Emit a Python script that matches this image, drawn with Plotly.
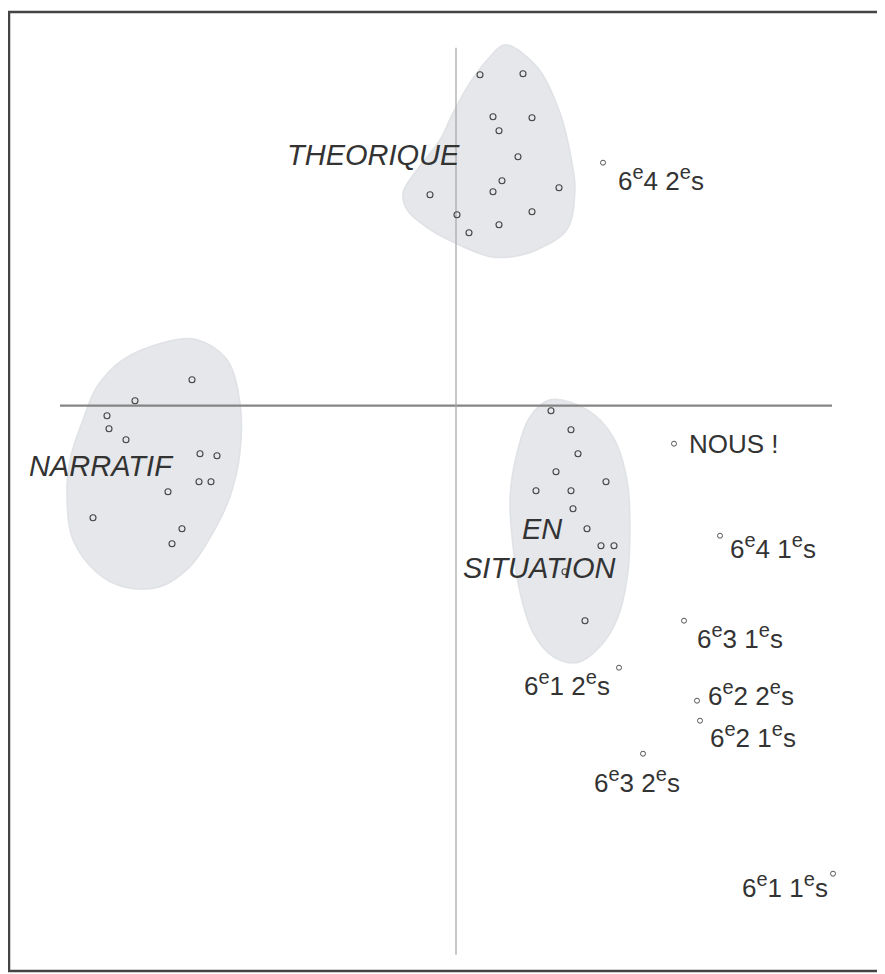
import plotly.graph_objects as go

# ---- data (factor-plane coordinates) ----
theo_x = [0.24, 0.67, 0.37, 0.76, 0.43, 0.62, 0.46, 1.03, 0.37, -0.26, 0.76, 0.01, 0.43, 0.13]
theo_y = [3.31, 3.32, 2.89, 2.88, 2.75, 2.49, 2.25, 2.18, 2.14, 2.11, 1.94, 1.91, 1.81, 1.73]

narr_x = [-2.64, -3.21, -3.49, -3.47, -3.30, -2.56, -2.39, -2.57, -2.45, -2.88, -3.63, -2.74, -2.84]
narr_y = [0.26, 0.05, -0.10, -0.23, -0.34, -0.48, -0.50, -0.76, -0.76, -0.86, -1.12, -1.23, -1.38]

situ_x = [0.95, 1.15, 1.22, 1.00, 1.50, 0.80, 1.15, 1.17, 1.31, 1.45, 1.58, 1.09, 1.29]
situ_y = [-0.05, -0.24, -0.48, -0.66, -0.76, -0.85, -0.85, -1.03, -1.23, -1.40, -1.40, -1.66, -2.15]

E = '<sup><span style="font-size:20px">e</span></sup>'
class_labels = ["6" + E + "4 2" + E + "s", "NOUS !", "6" + E + "4 1" + E + "s",
                "6" + E + "3 1" + E + "s", "6" + E + "2 2" + E + "s", "6" + E + "2 1" + E + "s",
                "6" + E + "1 2" + E + "s", "6" + E + "3 2" + E + "s", "6" + E + "1 1" + E + "s"]
class_x = [1.47, 2.18, 2.64, 2.28, 2.41, 2.44, 1.63, 1.87, 3.77]
class_y = [2.43, -0.38, -1.30, -2.15, -2.95, -3.15, -2.62, -3.48, -4.68]

group_names = ["THEORIQUE", "NARRATIF", "EN", "SITUATION"]

# cluster outlines
theo_blob_x = [0.49, 0.81, 1.04, 1.16, 1.19, 1.11, 0.81, 0.57, 0.34, 0.07, -0.26, -0.49, -0.53, -0.39, -0.16, -0.03, 0.14, 0.34]
theo_blob_y = [3.61, 3.39, 2.93, 2.43, 2.16, 1.76, 1.56, 1.49, 1.49, 1.59, 1.76, 1.96, 2.13, 2.36, 2.66, 2.93, 3.23, 3.49]
narr_blob_x = [-2.93, -2.59, -2.29, -2.16, -2.16, -2.26, -2.43, -2.66, -2.96, -3.33, -3.59, -3.83, -3.89, -3.86, -3.73, -3.59, -3.33]
narr_blob_y = [0.63, 0.66, 0.46, 0.03, -0.47, -0.91, -1.27, -1.61, -1.81, -1.81, -1.67, -1.34, -0.94, -0.54, -0.14, 0.19, 0.46]
situ_blob_x = [0.94, 1.31, 1.57, 1.71, 1.74, 1.71, 1.61, 1.44, 1.21, 0.97, 0.77, 0.64, 0.57, 0.54, 0.61, 0.74]
situ_blob_y = [0.06, -0.04, -0.31, -0.74, -1.24, -1.74, -2.14, -2.41, -2.57, -2.51, -2.27, -1.87, -1.41, -0.91, -0.47, -0.11]

axis_h_extent = [-3.96, 3.76]
axis_v_extent = [-5.49, 3.58]

X_RANGE = [-4.47, 4.27]
Y_RANGE = [-5.653, 3.937]

FONT = "Liberation Sans, Arial, sans-serif"
TXT = "#333333"

fig = go.Figure()

# shaded clusters
for bx, by in [(theo_blob_x, theo_blob_y), (narr_blob_x, narr_blob_y), (situ_blob_x, situ_blob_y)]:
    fig.add_trace(go.Scatter(x=bx + bx[:1], y=by + by[:1], mode="lines", fill="toself",
                             fillcolor="rgba(226,228,232,0.9)",
                             line=dict(width=1.5, color="rgba(220,222,226,0.8)", shape="spline", smoothing=1.0),
                             hoverinfo="skip", showlegend=False))

# axes
fig.add_trace(go.Scatter(x=axis_h_extent, y=[0, 0], mode="lines",
                         line=dict(color="#858585", width=2.2), hoverinfo="skip", showlegend=False))
fig.add_trace(go.Scatter(x=[0, 0], y=axis_v_extent, mode="lines",
                         line=dict(color="#a5a5a5", width=1.2), hoverinfo="skip", showlegend=False))

# points
marker = dict(symbol="circle-open", size=6, color="#444444", line=dict(width=1.1))
for px, py in [(theo_x, theo_y), (narr_x, narr_y), (situ_x, situ_y)]:
    fig.add_trace(go.Scatter(x=px, y=py, mode="markers", marker=marker, hoverinfo="skip", showlegend=False))
fig.add_trace(go.Scatter(x=class_x, y=class_y, mode="markers",
                         marker=dict(symbol="circle-open", size=5, color="#555555", line=dict(width=1)),
                         hoverinfo="skip", showlegend=False))

# class labels (offsets in pixels)
offsets = [("left", 13, -16), ("left", 13, 0), ("left", 8, -11), ("left", 11, -16), ("left", 9, 7),
           ("left", 8, -15), ("right", -7, -16), ("center", -6, -27), ("right", -3, -12)]
for lab, x, y, (anc, xs, ys) in zip(class_labels, class_x, class_y, offsets):
    fig.add_annotation(x=x, y=y, text=lab, showarrow=False, xanchor=anc, yanchor="middle",
                       xshift=xs, yshift=ys, font=dict(family=FONT, size=26, color=TXT))

# group labels
group_pos = [(0.06, 2.51, "right"), (-2.80, -0.60, "right"), (0.64, -1.23, "left"), (1.62, -1.62, "right")]
for name, (gx, gy, anc) in zip(group_names, group_pos):
    fig.add_annotation(x=gx, y=gy, text="<i>" + name + "</i>", showarrow=False, xanchor=anc, yanchor="middle",
                       font=dict(family=FONT, size=29, color=TXT))

# frame
fig.add_shape(type="rect", xref="paper", yref="paper", x0=0, y0=0, x1=1, y1=1,
              line=dict(color="#444444", width=2.5))

fig.update_xaxes(range=X_RANGE, visible=False, showgrid=False, zeroline=False)
fig.update_yaxes(range=Y_RANGE, visible=False, showgrid=False, zeroline=False)
fig.update_layout(width=877, height=966, margin=dict(l=1, r=2, t=4, b=3),
                  paper_bgcolor="white", plot_bgcolor="white", showlegend=False)

fig.write_html("out.html")
